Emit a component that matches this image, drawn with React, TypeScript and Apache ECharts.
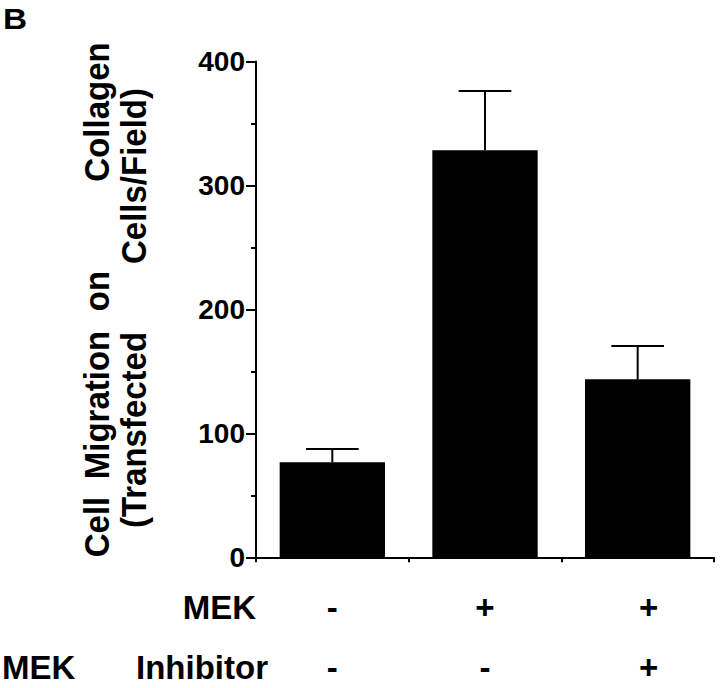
import React, { useEffect, useRef } from "react";
import * as echarts from "echarts";

const categories = ["Control", "MEK", "MEK + Inhibitor"];
const migration = [76.6, 328.3, 143.6];
const errorUp = [10.8, 47.8, 26.8];
const mekRow = ["-", "+", "+"];
const inhibitorRow = ["-", "-", "+"];
const yMin = 0;
const yMax = 400;
const yInterval = 100;

const FONT = "'Liberation Sans', Arial, Helvetica, sans-serif";

export default function App() {
  const ref = useRef<HTMLDivElement>(null);

  useEffect(() => {
    if (!ref.current) return;
    const chart = echarts.init(ref.current, undefined, { renderer: "svg" });

    const titleWords1 = [
      { t: "Cell", y: 527 },
      { t: "Migration", y: 405 },
      { t: "on", y: 291 },
      { t: "Collagen", y: 112 },
    ];
    const titleWords2 = [
      { t: "(Transfected", y: 430 },
      { t: "Cells/Field)", y: 176 },
    ];
    const titleStyle = {
      fontFamily: FONT,
      fontWeight: "bold" as const,
      fontSize: 33,
      fill: "#000",
      textAlign: "center" as const,
      textVerticalAlign: "middle" as const,
    };

    const rowStyle = {
      fontFamily: FONT,
      fontWeight: "bold" as const,
      fontSize: 33,
      fill: "#000",
      textVerticalAlign: "middle" as const,
    };

    const graphics: any[] = [
      {
        type: "text",
        x: 3,
        y: 19,
        scaleX: 1.15,
        style: { text: "B", fontFamily: FONT, fontWeight: "bold", fontSize: 29, fill: "#000", textVerticalAlign: "middle" },
      },
      ...titleWords1.map((w) => ({
        type: "text",
        x: 97,
        y: w.y,
        rotation: Math.PI / 2,
        scaleY: 1.05,
        style: { ...titleStyle, text: w.t },
      })),
      ...titleWords2.map((w) => ({
        type: "text",
        x: 134,
        y: w.y,
        rotation: Math.PI / 2,
        scaleY: 1.05,
        style: { ...titleStyle, text: w.t },
      })),
      { type: "text", x: 256, y: 607, style: { ...rowStyle, text: "MEK", textAlign: "right" } },
      { type: "text", x: 2, y: 667, style: { ...rowStyle, text: "MEK", textAlign: "left" } },
      { type: "text", x: 268, y: 667, style: { ...rowStyle, text: "Inhibitor", textAlign: "right" } },
    ];

    const signStyle = {
      fontFamily: FONT,
      fontWeight: "bold",
      fontSize: 33,
      color: "#000",
      lineHeight: 60,
      align: "center",
    };

    const option: any = {
      animation: false,
      backgroundColor: "#fff",
      grid: {
        left: 256,
        right: 6,
        top: 61.4,
        bottom: 130.7,
        containLabel: false,
        outerBoundsMode: "none",
      },
      xAxis: {
        type: "category",
        data: categories,
        axisLine: { lineStyle: { color: "#000", width: 2 } },
        axisTick: { show: true, length: 5, lineStyle: { color: "#000", width: 2 } },
        axisLabel: {
          margin: 20,
          interval: 0,
          formatter: (_v: string, i: number) => {
            const s = i === 2 ? "c" : "a";
            return `{${s}|${mekRow[i]}}\n{${s}|${inhibitorRow[i]}}`;
          },
          rich: {
            a: { ...signStyle },
            c: { ...signStyle, padding: [0, 0, 0, 22] },
          },
        },
        splitLine: { show: false },
      },
      yAxis: {
        type: "value",
        min: yMin,
        max: yMax,
        interval: yInterval,
        axisLine: { show: true, lineStyle: { color: "#000", width: 2 } },
        axisTick: { show: true, length: 10, lineStyle: { color: "#000", width: 2 } },
        minorTick: { show: true, splitNumber: 2, length: 5, lineStyle: { color: "#000", width: 2 } },
        axisLabel: {
          margin: 11,
          fontFamily: FONT,
          fontWeight: "bold",
          fontSize: 28,
          color: "#000",
        },
        splitLine: { show: false },
      },
      series: [
        {
          type: "bar",
          data: migration,
          barWidth: "69%",
          itemStyle: { color: "#000" },
          z: 2,
        },
        {
          type: "custom",
          z: 3,
          data: migration.map((v, i) => [i, v, errorUp[i]]),
          renderItem: (_params: any, api: any) => {
            const idx = api.value(0);
            const v = api.value(1);
            const e = api.value(2);
            const p0 = api.coord([idx, v]);
            const p1 = api.coord([idx, v + e]);
            const half = (api.size([1, 0])[0] * 0.69) / 4;
            const st = { stroke: "#000", lineWidth: 2 };
            return {
              type: "group",
              children: [
                { type: "line", shape: { x1: p0[0], y1: p0[1], x2: p1[0], y2: p1[1] }, style: st },
                { type: "line", shape: { x1: p1[0] - half, y1: p1[1], x2: p1[0] + half, y2: p1[1] }, style: st },
              ],
            };
          },
        },
      ],
      graphic: graphics,
    };

    chart.setOption(option);
    return () => chart.dispose();
  }, []);

  return (
    <div
      ref={ref}
      style={{ position: "fixed", left: 0, top: 0, width: 720, height: 688, background: "#fff" }}
    />
  );
}
